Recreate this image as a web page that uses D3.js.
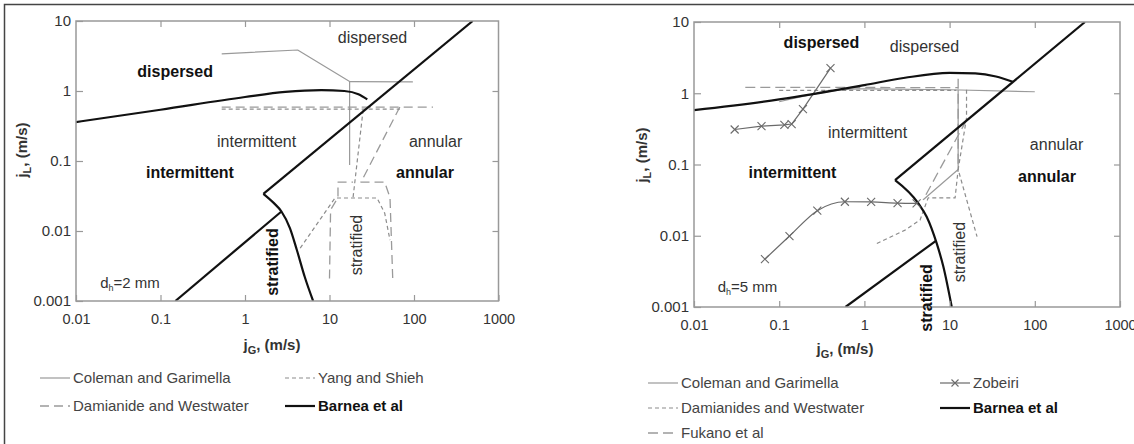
<!DOCTYPE html>
<html>
<head>
<meta charset="utf-8">
<script src="https://cdn.jsdelivr.net/npm/d3@7"></script>
<style>
  body { margin: 0; background: #fff; }
  svg { display: block; font-family: "Liberation Sans", Arial, sans-serif; }
</style>
</head>
<body>
<svg id="chart" width="1134" height="444"></svg>
<script>
// axis ticks shared by both panels
const xTicks = [0.01, 0.1, 1, 10, 100, 1000];
const xTickLabels = ['0.01', '0.1', '1', '10', '100', '1000'];
const yTicks = [0.001, 0.01, 0.1, 1, 10];
const yTickLabels = ['0.001', '0.01', '0.1', '1', '10'];

// ---- left panel, dh = 2 mm : [jG, jL] in m/s
const barnea2Dispersed = [[0.01, 0.36], [0.1, 0.54], [1, 0.82], [3, 0.97], [8, 1.03], [15, 1.0], [22, 0.9], [28, 0.76]];
const barnea2Annular = [[1.65, 0.034], [495, 10]];
const barnea2Stratified = [[1.65, 0.034], [2.2, 0.025], [2.7, 0.019], [3.4, 0.011], [4.1, 0.0054], [5.1, 0.0022], [6.4, 0.001]];
const barnea2StratInt = [[0.15, 0.001], [2.7, 0.019]];
const coleman2Top = [[0.53, 3.4], [4.2, 3.85], [17.5, 1.36], [97, 1.35]];
const coleman2Vertical = [[17.3, 1.36], [17.3, 0.088]];
const damianide2Top = [[0.53, 0.59], [168, 0.59]];
const damianide2Outer = [[68, 0.59], [23.6, 0.05], [45, 0.05], [52, 0.03], [56, 0.0021]];
const damianide2Inner = [[10, 0.0021], [10.3, 0.02], [12.6, 0.03], [12.6, 0.05], [19, 0.05]];
const yang2Top = [[0.53, 0.55], [68, 0.55]];
const yang2Vertical = [[25, 0.54], [19, 0.03]];
const yang2Strat = [[4.5, 0.0057], [11.6, 0.0296], [36.5, 0.0296], [45, 0.018], [52, 0.0074]];

// ---- right panel, dh = 5 mm
const barnea5Dispersed = [[0.01, 0.58], [0.1, 0.82], [1, 1.3], [3, 1.65], [10, 1.93], [20, 1.9], [35, 1.72], [55, 1.45]];
const barnea5Annular = [[2.29, 0.0605], [388, 10]];
const barnea5Stratified = [[2.29, 0.0605], [4.3, 0.0285], [5.38, 0.0185], [7.06, 0.0078], [8.44, 0.0037], [10.6, 0.001]];
const barnea5StratInt = [[0.6, 0.001], [6.9, 0.0085]];
const coleman5Top = [[0.1, 0.76], [0.9, 1.15], [10, 1.12], [100, 1.05]];
const coleman5Vertical = [[12.6, 1.12], [12.6, 0.085], [4.9, 0.032]];
const damianides5Top = [[0.1, 1.1], [12, 1.1]];
const damianides5Vertical = [[15.8, 1.12], [15.8, 0.45], [12.6, 0.085], [21, 0.0097]];
const damianides5Strat = [[1.4, 0.0078], [3, 0.012], [4.5, 0.0166], [5.6, 0.034], [11.6, 0.034], [12.6, 0.085]];
const fukano5Top = [[0.04, 1.21], [12.6, 1.2]];
const fukano5Vertical = [[12.6, 1.6], [12.6, 0.09]];
const fukano5Diag = [[15.8, 0.42], [4.9, 0.032]];
const zobeiri5Upper = [[0.03, 0.31], [0.062, 0.345], [0.115, 0.36], [0.14, 0.37], [0.19, 0.6], [0.4, 2.25]];
const zobeiri5Lower = [[0.068, 0.0047], [0.132, 0.0099], [0.28, 0.0225], [0.59, 0.03], [1.2, 0.0298], [2.45, 0.0287], [4.1, 0.0284]];

// region labels: [text, jG, jL, bold, rotated]
const labels2 = [
  ['dispersed', 0.149, 1.87, true, false],
  ['dispersed', 32.3, 5.7, false, false],
  ['intermittent', 1.37, 0.187, false, false],
  ['intermittent', 0.223, 0.0675, true, false],
  ['annular', 180, 0.187, false, false],
  ['annular', 135, 0.0675, true, false],
  ['stratified', 2.14, 0.0036, true, true],
  ['stratified', 21.1, 0.0063, false, true]
];
const labels5 = [
  ['dispersed', 0.313, 5.07, true, false],
  ['dispersed', 5.07, 4.46, false, false],
  ['intermittent', 1.09, 0.277, false, false],
  ['intermittent', 0.143, 0.076, true, false],
  ['annular', 180, 0.188, false, false],
  ['annular', 139, 0.067, true, false],
  ['stratified', 13.2, 0.0059, false, true],
  ['stratified', 5.43, 0.00134, true, true]
];

const styles = {
  coleman: { stroke: '#9a9a9a', width: 1.2, dash: null },
  yang: { stroke: '#8c8c8c', width: 1.2, dash: '4,3' },
  damianide: { stroke: '#9a9a9a', width: 1.3, dash: '9,5' },
  fukano: { stroke: '#9a9a9a', width: 1.3, dash: '10,5' },
  barnea: { stroke: '#111', width: 2.2, dash: null },
  zobeiri: { stroke: '#6a6a6a', width: 1.2, dash: null }
};

// series entries: [style key, points, smooth?]
const panels = [
  {
    x: [76, 498.5], y: [301, 21], yTitleX: 22, yTitleY: 150, xTitleX: 272, xTitleY: 350,
    tag: ['2', 0.0436, 0.0018],
    series: [
      ['coleman', coleman2Top], ['coleman', coleman2Vertical],
      ['damianide', damianide2Top], ['damianide', damianide2Outer], ['damianide', damianide2Inner],
      ['yang', yang2Top], ['yang', yang2Vertical], ['yang', yang2Strat],
      ['barnea', barnea2Dispersed, true], ['barnea', barnea2Annular], ['barnea', barnea2Stratified, true], ['barnea', barnea2StratInt]
    ],
    labels: labels2,
    legend: [
      ['coleman', 'Coleman and Garimella', 40, 378],
      ['yang', 'Yang and Shieh', 285, 378],
      ['damianide', 'Damianide and Westwater', 40, 406],
      ['barnea', 'Barnea et al', 285, 406]
    ]
  },
  {
    x: [694, 1120], y: [307, 22], yTitleX: 642, yTitleY: 155, xTitleX: 845, xTitleY: 354,
    tag: ['5', 0.0425, 0.0019],
    series: [
      ['coleman', coleman5Top, true], ['coleman', coleman5Vertical],
      ['yang', damianides5Top], ['yang', damianides5Vertical], ['yang', damianides5Strat],
      ['fukano', fukano5Top], ['fukano', fukano5Vertical], ['fukano', fukano5Diag],
      ['zobeiri', zobeiri5Upper], ['zobeiri', zobeiri5Lower, true],
      ['barnea', barnea5Dispersed, true], ['barnea', barnea5Annular], ['barnea', barnea5Stratified, true], ['barnea', barnea5StratInt]
    ],
    markers: [zobeiri5Upper, zobeiri5Lower],
    labels: labels5,
    legend: [
      ['coleman', 'Coleman and Garimella', 648, 383],
      ['zobeiri', 'Zobeiri', 940, 383],
      ['yang', 'Damianides and Westwater', 648, 408],
      ['barnea', 'Barnea et al', 940, 408],
      ['fukano', 'Fukano et al', 648, 433]
    ]
  }
];

const svg = d3.select('#chart');

// the picture is cropped: only the top and left edges of its frame show
svg.append('path')
  .attr('d', 'M4.5,444V4.5H1134')
  .attr('fill', 'none').attr('stroke', '#444').attr('stroke-width', 1.5);

function xMark(g, cx, cy, s, color) {
  g.append('path')
    .attr('d', `M${cx - s},${cy - s}L${cx + s},${cy + s}M${cx - s},${cy + s}L${cx + s},${cy - s}`)
    .attr('stroke', color).attr('stroke-width', 1.1).attr('fill', 'none');
}

panels.forEach((p) => {
  const x = d3.scaleLog().domain([0.01, 1000]).range(p.x);
  const y = d3.scaleLog().domain([0.001, 10]).range(p.y);
  const g = svg.append('g');
  const line = d3.line().x(d => x(d[0])).y(d => y(d[1]));
  const smoothLine = d3.line().x(d => x(d[0])).y(d => y(d[1])).curve(d3.curveMonotoneX);

  // curves, clipped to the plot box
  const clipId = `clip-${p.x[0]}`;
  svg.append('clipPath').attr('id', clipId)
    .append('rect')
    .attr('x', p.x[0]).attr('y', p.y[1])
    .attr('width', p.x[1] - p.x[0]).attr('height', p.y[0] - p.y[1]);

  const curves = g.append('g').attr('clip-path', `url(#${clipId})`);
  curves.selectAll('path')
    .data(p.series)
    .join('path')
    .attr('d', d => (d[2] ? smoothLine : line)(d[1]))
    .attr('fill', 'none')
    .attr('stroke', d => styles[d[0]].stroke)
    .attr('stroke-width', d => styles[d[0]].width)
    .attr('stroke-dasharray', d => styles[d[0]].dash)
    .attr('stroke-linejoin', 'round');

  (p.markers || []).forEach((pts) => {
    pts.forEach(d => xMark(curves, x(d[0]), y(d[1]), 4, styles.zobeiri.stroke));
  });

  // frame + inward ticks on all sides
  g.append('rect')
    .attr('x', p.x[0]).attr('y', p.y[1])
    .attr('width', p.x[1] - p.x[0]).attr('height', p.y[0] - p.y[1])
    .attr('fill', 'none').attr('stroke', '#999').attr('stroke-width', 1.5);

  const axisColor = '#999';
  g.append('g').attr('transform', `translate(0,${p.y[0]})`)
    .call(d3.axisBottom(x).tickValues(xTicks).tickSizeInner(-6).tickSizeOuter(0)
      .tickFormat((d, i) => xTickLabels[i]))
    .call(a => a.select('.domain').remove())
    .call(a => a.selectAll('line').attr('stroke', axisColor).attr('stroke-width', 1.2))
    .call(a => a.selectAll('text').attr('y', 13).attr('fill', '#333')
      .style('font-size', '14.5px').style('font-family', '"Liberation Sans", Arial, sans-serif'));

  g.append('g').attr('transform', `translate(0,${p.y[1]})`)
    .call(d3.axisTop(x).tickValues(xTicks.slice(1, -1)).tickSizeInner(-6).tickSizeOuter(0).tickFormat(''))
    .call(a => a.select('.domain').remove())
    .call(a => a.selectAll('line').attr('stroke', axisColor).attr('stroke-width', 1.2));

  g.append('g').attr('transform', `translate(${p.x[0]},0)`)
    .call(d3.axisLeft(y).tickValues(yTicks).tickSizeInner(-7).tickSizeOuter(0)
      .tickFormat((d, i) => yTickLabels[i]))
    .call(a => a.select('.domain').remove())
    .call(a => a.selectAll('line').attr('stroke', axisColor).attr('stroke-width', 1.2))
    .call(a => a.selectAll('text').attr('x', -5).attr('fill', '#333')
      .style('font-size', '15px').style('font-family', '"Liberation Sans", Arial, sans-serif'));

  g.append('g').attr('transform', `translate(${p.x[1]},0)`)
    .call(d3.axisRight(y).tickValues(yTicks.slice(1, -1)).tickSizeInner(-6).tickSizeOuter(0).tickFormat(''))
    .call(a => a.select('.domain').remove())
    .call(a => a.selectAll('line').attr('stroke', axisColor).attr('stroke-width', 1.2));

  // axis titles
  const xt = g.append('text')
    .attr('x', p.xTitleX).attr('y', p.xTitleY)
    .attr('text-anchor', 'middle').attr('font-size', 15).attr('font-weight', 'bold').attr('fill', '#333');
  xt.append('tspan').text('j');
  xt.append('tspan').text('G').attr('font-size', 11).attr('dy', 4);
  xt.append('tspan').text(', (m/s)').attr('dy', -4);

  const yt = g.append('text')
    .attr('transform', `translate(${p.yTitleX},${p.yTitleY}) rotate(-90)`)
    .attr('text-anchor', 'middle').attr('dy', 5).attr('font-size', 15).attr('font-weight', 'bold').attr('fill', '#333');
  yt.append('tspan').text('j');
  yt.append('tspan').text('L').attr('font-size', 11).attr('dy', 4);
  yt.append('tspan').text(', (m/s)').attr('dy', -4);

  // region labels
  p.labels.forEach(([t, jg, jl, bold, rot]) => {
    g.append('text')
      .attr('transform', `translate(${x(jg)},${y(jl)})${rot ? ' rotate(-90)' : ''}`)
      .attr('text-anchor', 'middle').attr('dy', 5)
      .attr('font-size', 16).attr('font-weight', bold ? 'bold' : 'normal')
      .attr('fill', bold ? '#111' : '#333')
      .text(t);
  });

  // diameter tag
  const tg = g.append('text')
    .attr('x', x(p.tag[1])).attr('y', y(p.tag[2])).attr('dy', 5)
    .attr('text-anchor', 'middle').attr('font-size', 15).attr('fill', '#333');
  tg.append('tspan').text('d');
  tg.append('tspan').text('h').attr('font-size', 9).attr('dy', 3);
  tg.append('tspan').text(`=${p.tag[0]} mm`).attr('dy', -3);

  // legend
  p.legend.forEach(([key, label, lx, ly]) => {
    const st = styles[key];
    g.append('line')
      .attr('x1', lx).attr('x2', lx + 30).attr('y1', ly).attr('y2', ly)
      .attr('stroke', st.stroke).attr('stroke-width', st.width)
      .attr('stroke-dasharray', st.dash);
    if (key === 'zobeiri') xMark(g, lx + 15, ly, 3.5, st.stroke);
    g.append('text')
      .attr('x', lx + 33).attr('y', ly).attr('dy', 5)
      .attr('font-size', 15).attr('font-weight', key === 'barnea' ? 'bold' : 'normal')
      .attr('fill', key === 'barnea' ? '#111' : '#444')
      .text(label);
  });
});
</script>
</body>
</html>
